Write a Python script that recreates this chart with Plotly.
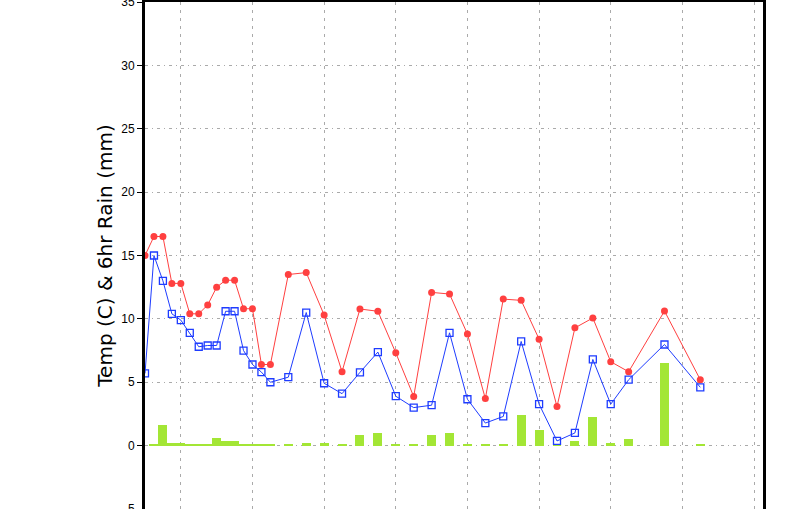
import plotly.graph_objects as go

# hours from start of record
hours = [0, 3, 6, 9, 12, 15, 18, 21, 24, 27, 30, 33, 36, 39, 42, 48, 54, 60, 66, 72,
         78, 84, 90, 96, 102, 108, 114, 120, 126, 132, 138, 144, 150, 156, 162, 174, 186]
temp_max = [15.0, 16.5, 16.5, 12.8, 12.8, 10.4, 10.4, 11.1, 12.5, 13.05, 13.05, 10.8, 10.8,
            6.4, 6.4, 13.5, 13.65, 10.3, 5.83, 10.78, 10.6, 7.32, 3.87, 12.09, 11.96, 8.81,
            3.71, 11.56, 11.46, 8.4, 3.08, 9.29, 10.07, 6.62, 5.83, 10.62, 5.2]
temp_min = [5.7, 15.0, 13.0, 10.4, 9.9, 8.9, 7.8, 7.9, 7.9, 10.6, 10.6, 7.5, 6.4, 5.8, 5.0,
            5.4, 10.5, 4.92, 4.1, 5.78, 7.38, 3.9, 3.0, 3.19, 8.9, 3.66, 1.78, 2.3, 8.22,
            3.27, 0.37, 1.0, 6.8, 3.27, 5.2, 7.98, 4.6]

rain_hours = [3, 6, 9, 12, 15, 18, 21, 24, 27, 30, 33, 36, 39, 42, 48, 54, 60, 66, 72, 78,
              84, 90, 96, 102, 108, 114, 120, 126, 132, 138, 144, 150, 156, 162, 174, 186]
rain = [0.13, 1.65, 0.24, 0.24, 0.06, 0.06, 0.06, 0.6, 0.4, 0.4, 0.06, 0.06, 0.06, 0.06,
        0.06, 0.18, 0.18, 0.06, 0.8, 0.97, 0.06, 0.06, 0.8, 1.02, 0.06, 0.06, 0.06, 2.43,
        1.26, 0.06, 0.4, 2.28, 0.23, 0.55, 6.5, 0.06]

y_ticks = [-5, 0, 5, 10, 15, 20, 25, 30, 35]

fig = go.Figure()
fig.add_trace(go.Bar(x=rain_hours, y=rain, width=3, marker=dict(color="#a3e635", line=dict(width=0)),
                     showlegend=False))
fig.add_trace(go.Scatter(x=hours, y=temp_max, mode="lines+markers",
                         line=dict(color="#ff4040", width=1),
                         marker=dict(symbol="circle", size=7, color="#ff4040"),
                         showlegend=False))
fig.add_trace(go.Scatter(x=hours, y=temp_min, mode="lines+markers",
                         line=dict(color="#1e3cff", width=1),
                         marker=dict(symbol="square-open", size=7, color="#1e3cff", line=dict(width=1.3)),
                         showlegend=False))

fig.update_layout(
    width=800, height=509,
    margin=dict(l=145, r=37, t=2, b=0),
    paper_bgcolor="white", plot_bgcolor="white",
    bargap=0,
    font=dict(family="DejaVu Sans", color="black"),
)
fig.update_xaxes(
    range=[0, 207], showticklabels=False, ticks="", automargin=False,
    tick0=12, dtick=24,
    showgrid=True, gridcolor="#aaaaaa", gridwidth=1, griddash="3px,5px",
    showline=True, linecolor="black", linewidth=3, mirror=True, zeroline=False,
)
fig.update_yaxes(
    range=[-5, 35], tickvals=y_ticks, ticktext=[str(v) for v in y_ticks],
    automargin=False, ticklabeloverflow="allow",
    ticks="outside", ticklen=5, tickcolor="black", tickwidth=1,
    tickfont=dict(family="Liberation Sans", size=12, color="black"),
    showgrid=True, gridcolor="#aaaaaa", gridwidth=1, griddash="3px,4px,1px,4px",
    showline=True, linecolor="black", linewidth=3, mirror=True, zeroline=False,
    title=dict(text="Temp (C) & 6hr Rain (mm)", font=dict(family="DejaVu Sans", size=20, color="black"),
               standoff=4),
)

fig.write_html("out.html", config={"displayModeBar": False},
               post_script="document.body.style.margin='0px';document.body.style.overflow='hidden';")
